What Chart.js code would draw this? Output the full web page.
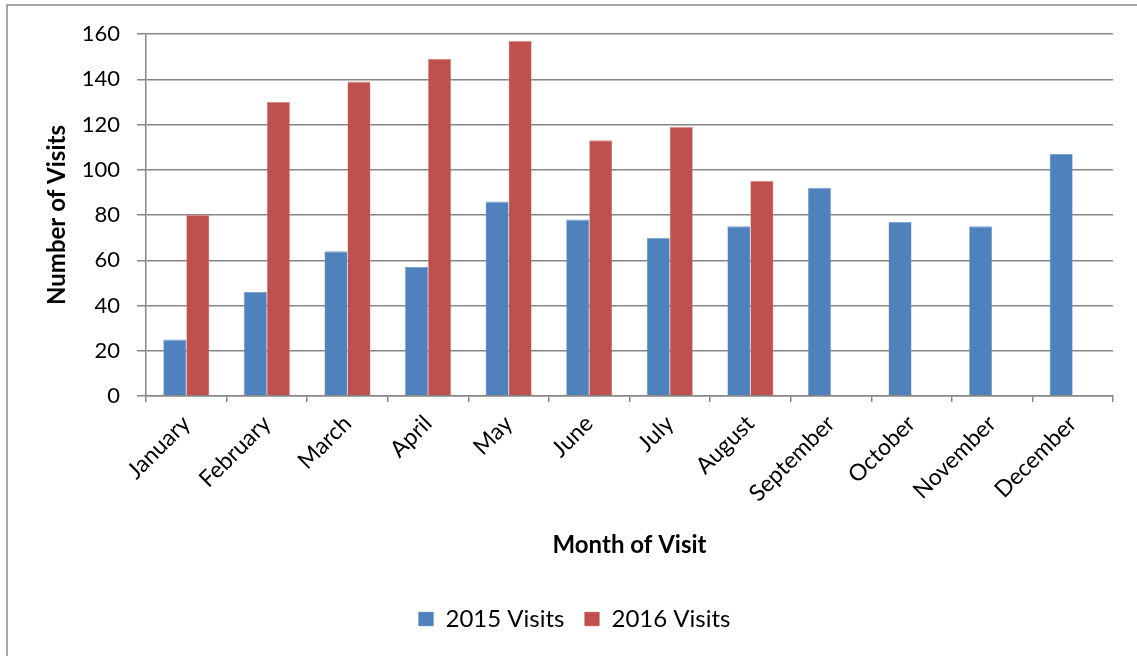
<!DOCTYPE html>
<html>
<head>
<meta charset="utf-8">
<script src="https://cdn.jsdelivr.net/npm/chart.js@4"></script>
<style>
  html, body { margin: 0; padding: 0; background: #fff; }
  canvas { display: block; }
</style>
</head>
<body>
<canvas id="myChart" width="1137" height="656"></canvas>
<script>
/* DATA */
var months = ['January', 'February', 'March', 'April', 'May', 'June', 'July',
              'August', 'September', 'October', 'November', 'December'];
var visits2015 = [25, 46, 64, 57, 86, 78, 70, 75, 92, 77, 75, 107];
var visits2016 = [80, 130, 139, 149, 157, 113, 119, 95, null, null, null, null];
var yTicks = [0, 20, 40, 60, 80, 100, 120, 140, 160];
/* DATA */

var FONT = 'Lato, "Open Sans", sans-serif';
var GRID = '#868686';

// grey frame like the excel chart border
var frame = {
    id: 'frame',
    beforeDraw: function(chart) {
        var ctx = chart.ctx;
        ctx.save();
        ctx.fillStyle = '#fff';
        ctx.fillRect(0, 0, chart.width, chart.height);
        ctx.strokeStyle = '#8c8c8c';
        ctx.lineWidth = 1.5;
        ctx.strokeRect(7, 5, chart.width + 20, chart.height + 20);
        ctx.restore();
    }
};

var config = {
    type: 'bar',
    data: {
        labels: months,
        datasets: [
            { label: '2015 Visits', backgroundColor: '#4F81BD', borderColor: '#7ea3d3', borderWidth: { top: 1, left: 0.5, right: 0.5 }, data: visits2015 },
            { label: '2016 Visits', backgroundColor: '#C0504D', borderColor: '#d98a88', borderWidth: { top: 1, left: 0.5, right: 0.5 }, data: visits2016 }
        ]
    },
    options: {
        responsive: false,
        animation: false,
        devicePixelRatio: 1,
        categoryPercentage: 0.571,
        barPercentage: 1.0,
        layout: { padding: { left: 36, right: 24, top: 34, bottom: 15 } },
        plugins: {
            tooltip: { enabled: false },
            legend: {
                position: 'bottom',
                labels: {
                    boxWidth: 15,
                    boxHeight: 14,
                    padding: 20,
                    color: '#000',
                    font: { family: FONT, size: 24 }
                }
            }
        },
        scales: {
            x: {
                afterFit: function(s) { s.height = 191; },
                grid: {
                    drawOnChartArea: false,
                    drawTicks: true,
                    tickLength: 6,
                    color: GRID,
                    lineWidth: 1.5
                },
                border: { display: true, color: GRID, width: 1.5 },
                ticks: {
                    minRotation: 45,
                    maxRotation: 45,
                    padding: 8,
                    color: '#000',
                    font: { family: FONT, size: 23 }
                },
                title: {
                    display: true,
                    text: 'Month of Visit',
                    color: '#000',
                    padding: { top: 0, bottom: 27 },
                    font: { family: FONT, size: 24, weight: 'bold' }
                }
            },
            y: {
                min: 0,
                max: 160,
                afterFit: function(s) { s.width = 110; },
                afterBuildTicks: function(s) {
                    s.ticks = yTicks.map(function(v) { return { value: v }; });
                },
                grid: {
                    color: GRID,
                    lineWidth: 1.5,
                    tickLength: 9
                },
                border: { display: true, color: GRID, width: 1.5 },
                ticks: {
                    padding: 17,
                    color: '#000',
                    font: { family: FONT, size: 22 }
                },
                title: {
                    display: true,
                    text: 'Number of Visits',
                    color: '#000',
                    padding: { top: 7, bottom: 0 },
                    font: { family: FONT, size: 24, weight: 'bold' }
                }
            }
        }
    },
    plugins: [frame]
};

window.onload = function() {
    var ctx = document.getElementById('myChart').getContext('2d');
    window.myChart = new Chart(ctx, config);
};
</script>
</body>
</html>
